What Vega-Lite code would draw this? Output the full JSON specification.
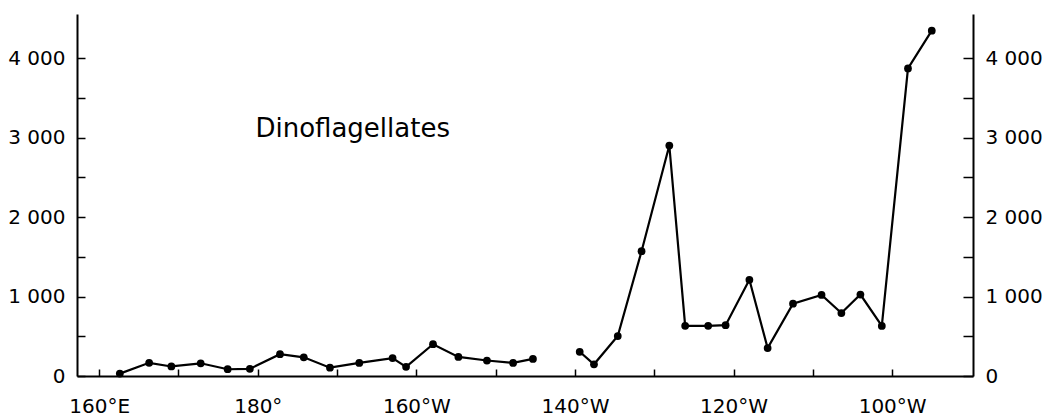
{
  "$schema": "https://vega.github.io/schema/vega-lite/v6.json",
  "width": 896,
  "height": 362,
  "autosize": {"type": "none"},
  "padding": {"left": 77, "top": 14, "right": 75, "bottom": 44},
  "background": "white",
  "config": {
    "view": {"stroke": null},
    "font": "DejaVu Sans",
    "axis": {
      "domainColor": "black",
      "domainWidth": 2,
      "tickColor": "black",
      "tickWidth": 1.5,
      "labelColor": "black",
      "labelFont": "DejaVu Sans",
      "labelFontSize": 20,
      "grid": false,
      "title": null
    }
  },
  "datasets": {
    "obs": [
      {"lon": 162.6, "count": 30, "section": "A"},
      {"lon": 166.3, "count": 166, "section": "A"},
      {"lon": 169.1, "count": 120, "section": "A"},
      {"lon": 172.8, "count": 160, "section": "A"},
      {"lon": 176.2, "count": 85, "section": "A"},
      {"lon": 179.0, "count": 90, "section": "A"},
      {"lon": 182.8, "count": 275, "section": "A"},
      {"lon": 185.8, "count": 235, "section": "A"},
      {"lon": 189.1, "count": 105, "section": "A"},
      {"lon": 192.8, "count": 165, "section": "A"},
      {"lon": 197.0, "count": 225, "section": "A"},
      {"lon": 198.7, "count": 115, "section": "A"},
      {"lon": 202.1, "count": 400, "section": "A"},
      {"lon": 205.3, "count": 240, "section": "A"},
      {"lon": 208.9, "count": 195, "section": "A"},
      {"lon": 212.2, "count": 165, "section": "A"},
      {"lon": 214.7, "count": 215, "section": "A"},
      {"lon": 220.6, "count": 305, "section": "B"},
      {"lon": 222.4, "count": 147, "section": "B"},
      {"lon": 225.4, "count": 503, "section": "B"},
      {"lon": 228.4, "count": 1570, "section": "B"},
      {"lon": 231.9, "count": 2900, "section": "B"},
      {"lon": 233.9, "count": 631, "section": "B"},
      {"lon": 236.8, "count": 631, "section": "B"},
      {"lon": 239.0, "count": 640, "section": "B"},
      {"lon": 242.0, "count": 1211, "section": "B"},
      {"lon": 244.3, "count": 352, "section": "B"},
      {"lon": 247.5, "count": 910, "section": "B"},
      {"lon": 251.1, "count": 1020, "section": "B"},
      {"lon": 253.6, "count": 792, "section": "B"},
      {"lon": 256.0, "count": 1025, "section": "B"},
      {"lon": 258.7, "count": 630, "section": "B"},
      {"lon": 262.0, "count": 3870, "section": "B"},
      {"lon": 265.0, "count": 4345, "section": "B"}
    ],
    "label": [
      {"lon": 179.7, "count": 3110, "text": "Dinoflagellates"}
    ]
  },
  "resolve": {"axis": {"y": "independent"}},
  "layer": [
    {
      "data": {"name": "obs"},
      "mark": {"type": "line", "color": "black", "strokeWidth": 2.2},
      "encoding": {
        "x": {
          "field": "lon", "type": "quantitative",
          "scale": {"domain": [157.2, 270.2], "nice": false, "zero": false},
          "axis": {
            "orient": "bottom",
            "values": [160, 170, 180, 190, 200, 210, 220, 230, 240, 250, 260],
            "tickSize": -7,
            "labelPadding": 27,
            "labelExpr": "datum.value % 20 != 0 ? '' : datum.value == 160 ? '160°E' : datum.value == 180 ? '180°' : (360 - datum.value) + '°W'"
          }
        },
        "y": {
          "field": "count", "type": "quantitative",
          "scale": {"domain": [0, 4555], "nice": false},
          "axis": {
            "orient": "left",
            "values": [0, 500, 1000, 1500, 2000, 2500, 3000, 3500, 4000],
            "tickSize": -8,
            "labelPadding": 20,
            "labelExpr": "datum.value % 1000 != 0 ? '' : replace(format(datum.value, ','), ',', ' ')"
          }
        },
        "detail": {"field": "section"}
      }
    },
    {
      "data": {"name": "obs"},
      "mark": {"type": "point", "filled": true, "color": "black", "size": 60, "opacity": 1},
      "encoding": {
        "x": {"field": "lon", "type": "quantitative"},
        "y": {
          "field": "count", "type": "quantitative",
          "axis": {
            "orient": "right",
            "values": [0, 500, 1000, 1500, 2000, 2500, 3000, 3500, 4000],
            "tickSize": -10,
            "labelPadding": 22,
            "labelExpr": "datum.value % 1000 != 0 ? '' : replace(format(datum.value, ','), ',', ' ')"
          }
        }
      }
    },
    {
      "data": {"name": "label"},
      "mark": {"type": "text", "align": "left", "baseline": "middle", "fontSize": 26, "font": "DejaVu Sans", "color": "black"},
      "encoding": {
        "x": {"field": "lon", "type": "quantitative"},
        "y": {"field": "count", "type": "quantitative", "axis": null},
        "text": {"field": "text"}
      }
    }
  ]
}
